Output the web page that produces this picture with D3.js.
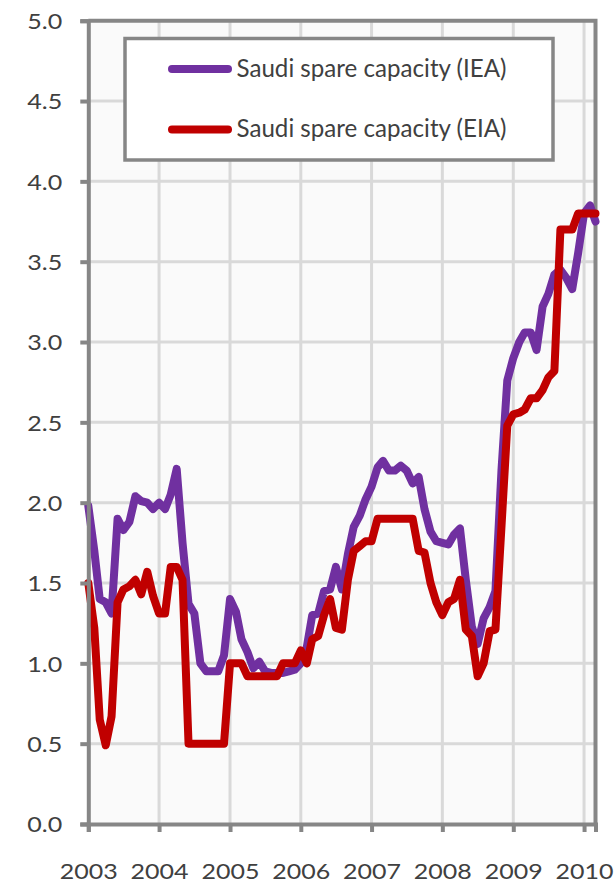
<!DOCTYPE html>
<html><head><meta charset="utf-8">
<script src="https://cdn.jsdelivr.net/npm/d3@7"></script>
<style>body{margin:0;background:#fff;} svg{display:block;}</style>
</head><body>
<script>
// Monthly values, Jan 2003 .. Mar 2010
const startYear = 2003;
const iea = [1.98,1.70,1.40,1.38,1.31,1.90,1.83,1.88,2.04,2.01,2.00,1.96,
             2.00,1.96,2.05,2.21,1.75,1.37,1.31,1.00,0.95,0.95,0.95,1.05,
             1.40,1.32,1.15,1.07,0.97,1.01,0.95,0.94,0.94,0.94,0.95,0.96,
             1.00,1.10,1.30,1.31,1.45,1.46,1.60,1.46,1.68,1.85,1.92,2.02,
             2.10,2.22,2.26,2.20,2.20,2.23,2.20,2.12,2.16,1.96,1.82,1.76,
             1.75,1.74,1.80,1.84,1.52,1.23,1.12,1.28,1.35,1.45,2.20,2.76,
             2.90,3.00,3.06,3.06,2.95,3.22,3.30,3.42,3.45,3.40,3.33,3.55,
             3.80,3.85,3.75];
const eia = [1.50,1.22,0.65,0.49,0.67,1.38,1.46,1.48,1.52,1.43,1.57,1.42,
             1.31,1.31,1.60,1.60,1.52,0.50,0.50,0.50,0.50,0.50,0.50,0.50,
             1.00,1.00,1.00,0.92,0.92,0.92,0.92,0.92,0.92,1.00,1.00,1.00,
             1.08,1.00,1.15,1.17,1.30,1.40,1.22,1.21,1.52,1.70,1.73,1.76,
             1.76,1.90,1.90,1.90,1.90,1.90,1.90,1.90,1.70,1.69,1.50,1.38,
             1.30,1.38,1.40,1.52,1.21,1.17,0.92,1.00,1.20,1.21,1.85,2.48,
             2.55,2.56,2.58,2.65,2.65,2.70,2.78,2.82,3.70,3.70,3.70,3.80,
             3.80,3.80,3.80];
const yearLabels = ["2003","2004","2005","2006","2007","2008","2009","2010"];
const yTicks = [0,0.5,1,1.5,2,2.5,3,3.5,4,4.5,5];
const seriesNames = ["Saudi spare capacity (IEA)","Saudi spare capacity (EIA)"];
const seriesColors = ["#7030A0","#C00000"];

const W = 616, H = 884;
const textColor = "#404040", axisColor = "#868686", gridColor = "#d9d9d9";
const font = "Lato, 'Open Sans', sans-serif";

const svg = d3.select("body").append("svg").attr("width", W).attr("height", H);

const x = d3.scaleTime()
  .domain([new Date(startYear, 0, 1), new Date(2010, 2, 1)])
  .range([88.3, 595.5]);
const y = d3.scaleLinear().domain([0, 5]).range([824, 20.7]);
const yearDates = yearLabels.map(s => new Date(+s, 0, 1));

// plot background
svg.append("rect").attr("x", x.range()[0]).attr("y", y(5))
  .attr("width", x.range()[1] - x.range()[0]).attr("height", y(0) - y(5))
  .attr("fill", "#fafafa");

// gridlines
svg.append("g").selectAll("line").data(yTicks.filter(d => d > 0 && d < 5)).join("line")
  .attr("x1", x.range()[0]).attr("x2", x.range()[1])
  .attr("y1", d => y(d)).attr("y2", d => y(d))
  .attr("stroke", gridColor).attr("stroke-width", 3);
svg.append("g").selectAll("line").data(yearDates.slice(1)).join("line")
  .attr("x1", d => x(d)).attr("x2", d => x(d))
  .attr("y1", y(0)).attr("y2", y(5))
  .attr("stroke", gridColor).attr("stroke-width", 3);

// plot border (top & right)
svg.append("path")
  .attr("d", `M${x.range()[0]},${y(5)}H${x.range()[1]}V${y(0)}`)
  .attr("fill", "none").attr("stroke", axisColor).attr("stroke-width", 4);

// lines
const line = d3.line().x((d, i) => x(new Date(startYear, i, 1))).y(d => y(d));
[iea, eia].forEach((s, k) => {
  svg.append("path").datum(s).attr("d", line)
    .attr("fill", "none").attr("stroke", seriesColors[k])
    .attr("stroke-width", 8).attr("stroke-linejoin", "round").attr("stroke-linecap", "round");
});

// y axis
const yAxis = svg.append("g").attr("transform", `translate(${x.range()[0]},0)`)
  .call(d3.axisLeft(y).tickValues(yTicks).tickFormat(d3.format(".1f")).tickSize(8).tickPadding(18));
yAxis.select(".domain").attr("stroke", axisColor).attr("stroke-width", 4);
yAxis.selectAll(".tick line").attr("stroke", axisColor).attr("stroke-width", 4);
yAxis.selectAll(".tick text").attr("font-family", font).attr("font-size", 22)
  .attr("fill", textColor).attr("x", -26).attr("dy", "0.36em")
  .attr("textLength", 35).attr("lengthAdjust", "spacingAndGlyphs");

// x axis
const xAxis = svg.append("g").attr("transform", `translate(0,${y(0)})`)
  .call(d3.axisBottom(x).tickValues(yearDates).tickFormat((d, i) => yearLabels[i]).tickSize(8));
xAxis.select(".domain").attr("stroke", axisColor).attr("stroke-width", 4);
xAxis.selectAll(".tick line").attr("stroke", axisColor).attr("stroke-width", 4);
xAxis.selectAll(".tick text").attr("font-family", font).attr("font-size", 22)
  .attr("fill", textColor).attr("y", 55).attr("dy", 0)
  .attr("textLength", 58).attr("lengthAdjust", "spacingAndGlyphs");

// legend
const lg = svg.append("g");
lg.append("rect").attr("x", 125).attr("y", 38.5).attr("width", 428).attr("height", 121.5)
  .attr("fill", "#fff").attr("stroke", axisColor).attr("stroke-width", 3.5);
seriesNames.forEach((name, k) => {
  const ly = 69 + k * 60.5;
  lg.append("line").attr("x1", 172).attr("x2", 228).attr("y1", ly).attr("y2", ly)
    .attr("stroke", seriesColors[k]).attr("stroke-width", 8).attr("stroke-linecap", "round");
  lg.append("text").attr("x", 236.5).attr("y", ly + 7.5).text(name)
    .attr("font-family", font).attr("font-size", 25).attr("fill", textColor)
    .attr("textLength", 270).attr("lengthAdjust", "spacingAndGlyphs");
});
</script>
</body></html>
